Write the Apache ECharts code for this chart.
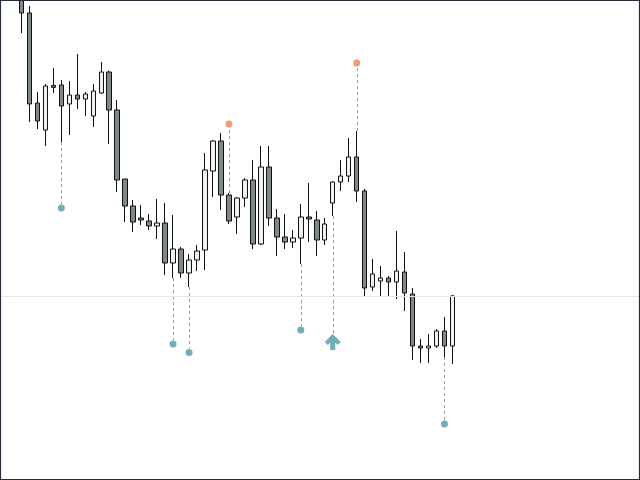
<!DOCTYPE html>
<html>
<head>
<meta charset="utf-8">
<script src="https://cdn.jsdelivr.net/npm/echarts@6/dist/echarts.min.js"></script>
<style>
html,body{margin:0;padding:0;background:#fff;}
#chart{width:640px;height:480px;}
</style>
</head>
<body>
<div id="chart"></div>
<script>
// Bar slots (two leading empty slots, then 55 candles, then empty space)
var categories = [];
for (var k = 1; k <= 80; k++) { categories.push(String(k)); }
var firstCandleSlot = 2;

// OHLC: [open, close, low, high]
var opens  = [113.00,111.35,106.85,105.50,107.73,107.75,106.80,107.25,107.05,106.20,107.35,108.40,106.50,103.05,101.70,101.10,100.95,100.70,100.85,98.85,99.55,98.35,99.00,99.50,103.45,104.95,102.25,101.15,102.10,103.00,99.80,103.65,101.10,100.15,99.90,100.10,101.15,101.00,100.00,101.85,102.90,103.20,104.15,102.45,97.65,97.95,98.10,97.90,98.40,97.30,94.70,94.60,94.70,95.45,94.70];
var closes = [111.35,106.80,105.95,107.70,107.63,106.70,107.25,107.05,107.30,107.45,108.40,106.50,103.00,101.70,100.90,101.00,100.70,100.85,98.85,99.55,98.35,99.00,99.45,103.50,104.95,102.25,100.95,102.10,103.00,99.80,103.65,101.10,100.15,99.90,100.10,101.15,101.05,100.00,100.80,102.90,103.20,104.15,102.45,97.60,98.30,98.10,97.90,98.45,97.35,94.70,94.60,94.70,95.45,94.70,97.20];
var lows   = [110.35,105.90,105.55,104.70,107.35,104.90,105.25,106.55,106.20,105.65,107.30,104.80,102.40,100.90,100.40,100.75,100.50,100.05,98.25,98.10,98.10,97.65,98.45,98.50,102.15,101.50,100.80,100.30,101.65,99.55,99.75,100.70,99.20,99.55,99.60,98.80,99.90,99.20,99.75,101.20,102.45,102.90,101.90,97.20,97.45,97.20,97.15,97.05,96.45,94.00,93.85,93.85,94.60,94.15,93.80];
var highs  = [113.50,111.70,107.40,107.80,108.60,108.00,107.95,109.30,107.40,107.80,108.90,108.47,107.00,103.05,102.00,101.75,101.30,102.05,101.85,101.25,99.65,99.30,99.75,104.35,105.00,105.35,102.35,102.15,103.10,104.00,104.70,104.70,101.55,101.30,100.50,101.80,102.85,101.45,101.10,102.93,104.00,105.10,105.45,102.55,99.05,98.70,98.20,100.45,99.40,97.60,95.05,95.30,95.55,96.15,97.25];

// Signals (candle number, 0-based within the candles, and marker level)
var buyDotCandles  = [5, 19, 21, 35, 53];
var buyDotLevels   = [101.60, 94.80, 94.37, 95.50, 90.80];
var sellDotCandles = [26, 42];
var sellDotLevels  = [105.80, 108.85];
var arrowCandles   = [39];
var arrowLevels    = [94.90];

// Horizontal reference level
var refLevel = 97.17;

var candleData = opens.map(function (o, i) {
  return [firstCandleSlot + i, o, closes[i], lows[i], highs[i]];
});

var buyDots = buyDotCandles.map(function (c, i) { return [firstCandleSlot + c, buyDotLevels[i]]; });
var sellDots = sellDotCandles.map(function (c, i) { return [firstCandleSlot + c, sellDotLevels[i]]; });
var arrows = arrowCandles.map(function (c, i) { return [firstCandleSlot + c, arrowLevels[i]]; });

// connectors: [slot, from, to, gapPx]
var connectors = [];
buyDotCandles.forEach(function (c, i) { connectors.push([firstCandleSlot + c, lows[c], buyDotLevels[i], 4]); });
sellDotCandles.forEach(function (c, i) { connectors.push([firstCandleSlot + c, highs[c], sellDotLevels[i], -4]); });
arrowCandles.forEach(function (c, i) { connectors.push([firstCandleSlot + c, lows[c], arrowLevels[i], 9]); });

var chart = echarts.init(document.getElementById('chart'), null, { renderer: 'canvas' });

var teal = '#4b9ca6';
var orange = '#f5814e';

chart.setOption({
  animation: false,
  backgroundColor: '#ffffff',
  grid: { left: 1.5, top: 0, width: 640, bottom: 0, containLabel: false },
  xAxis: {
    type: 'category',
    data: categories,
    boundaryGap: true,
    show: false
  },
  yAxis: {
    type: 'value',
    min: 88,
    max: 112,
    show: false,
    splitLine: { show: false }
  },
  graphic: [{
    type: 'rect',
    silent: true,
    z: 100,
    shape: { x: 0.5, y: 0.5, width: 639, height: 479 },
    style: { fill: 'none', stroke: '#232e3d', lineWidth: 1.2 }
  }],
  series: [
    {
      type: 'custom',
      z: 1,
      silent: true,
      data: connectors,
      encode: { x: 0, y: [1, 2] },
      renderItem: function (params, api) {
        var p1 = api.coord([api.value(0), api.value(1)]);
        var p2 = api.coord([api.value(0), api.value(2)]);
        var gap = api.value(3);
        var x = Math.round(p1[0]) + 0.5;
        return {
          type: 'line',
          shape: { x1: x, y1: p1[1], x2: x, y2: p2[1] - gap },
          style: { stroke: '#a0a0a0', lineWidth: 1, lineDash: [3, 3] }
        };
      }
    },
    {
      type: 'candlestick',
      z: 2,
      barWidth: 5,
      data: candleData,
      encode: { x: 0, y: [1, 2, 3, 4] },
      itemStyle: {
        color: '#f0f0f0',
        color0: '#7f8989',
        borderColor: '#111111',
        borderColor0: '#111111',
        borderWidth: 1
      },
      markLine: {
        silent: true,
        symbol: ['none', 'none'],
        label: { show: false },
        lineStyle: { color: '#e6e6e6', width: 1, type: 'solid' },
        data: [{ yAxis: refLevel }]
      }
    },
    {
      type: 'scatter',
      z: 3,
      data: buyDots,
      symbol: 'circle',
      symbolSize: 7,
      itemStyle: { color: teal }
    },
    {
      type: 'scatter',
      z: 3,
      data: sellDots,
      symbol: 'circle',
      symbolSize: 7,
      itemStyle: { color: orange }
    },
    {
      type: 'scatter',
      z: 3,
      data: arrows,
      symbol: 'path://M8,0 L16,8 L13,11 L10.5,8.5 L10.5,16 L5.5,16 L5.5,8.5 L3,11 L0,8 Z',
      symbolSize: [16, 16],
      itemStyle: { color: teal }
    }
  ]
});
</script>
</body>
</html>
